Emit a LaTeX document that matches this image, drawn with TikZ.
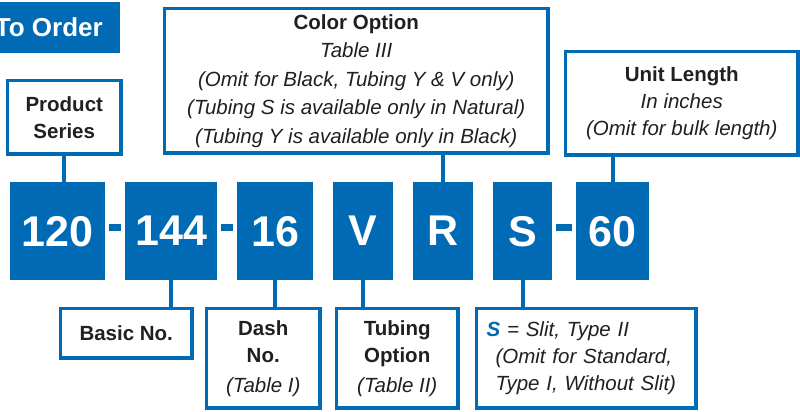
\documentclass[tikz,border=0pt]{standalone}
\usepackage{fontspec}
\setmainfont{Liberation Sans}
\definecolor{ordblue}{RGB}{0,106,180}
\definecolor{ordtext}{RGB}{35,31,32}
\begin{document}
\begin{tikzpicture}[x=1pt,y=-1pt]
	\tikzstyle{code} = [fill=ordblue,text=white,inner sep=0,minimum height=98pt,anchor=north west,font=\fontsize{43}{43}\selectfont\bfseries]
	\tikzstyle{label} = [draw=ordblue,line width=3.5pt,fill=white,text=ordtext,inner sep=0,anchor=north west,align=center,font=\fontsize{20.5}{27}\selectfont]
	\tikzstyle{link} = [draw=ordblue,line width=4pt]
	\tikzstyle{hyphen} = [draw=ordblue,line width=7pt,shorten >=4pt,shorten <=4pt]
	\useasboundingbox (0,0) rectangle (800,412);
	
	\node[fill=ordblue,text=white,inner sep=0,anchor=north east,minimum height=51pt,font=\fontsize{26}{26}\selectfont\bfseries](order)at (120,2){\hspace*{12pt}To Order\hspace*{17pt}};
	
	\node[code,minimum width=95pt](c-1)at (10,182){120};
	\node[code,minimum width=92pt](c-2)at (125,182){144};
	\node[code,minimum width=76pt](c-3)at (237,182){16};
	\node[code,minimum width=60pt](c-4)at (333,182){V};
	\node[code,minimum width=60pt](c-5)at (413,182){R};
	\node[code,minimum width=59pt](c-6)at (493,182){S};
	\node[code,minimum width=73pt](c-7)at (576,182){60};
	
	\node[label,minimum width=113.5pt,minimum height=73.5pt](ps)at (5.75,78.75){\textbf{Product}\\\textbf{Series}};
	\node[label,minimum width=383.5pt,minimum height=144.5pt,font=\fontsize{20.5}{28.5}\selectfont](col)at (162.75,6.75){\textbf{Color Option}\\\textit{Table III}\\\textit{(Omit for Black, Tubing Y \& V only)}\\\textit{(Tubing S is available only in Natural)}\\\textit{(Tubing Y is available only in Black)}};
	\node[label,minimum width=232.5pt,minimum height=103.5pt](len)at (563.75,49.75){\textbf{Unit Length}\\\textit{In inches}\\\textit{(Omit for bulk length)}};
	
	\node[label,minimum width=131.5pt,minimum height=49.5pt](basic)at (58.75,306.75){\textbf{Basic No.}};
	\node[label,minimum width=113.5pt,minimum height=99.5pt](dash)at (204.75,306.75){\textbf{Dash}\\\textbf{No.}\\[3pt]\textit{(Table I)}};
	\node[label,minimum width=121.5pt,minimum height=99.5pt](tube)at (334.75,306.75){\textbf{Tubing}\\\textbf{Option}\\[3pt]\textit{(Table II)}};
	\node[label,minimum height=99.5pt,inner xsep=10pt,text width=199.5pt,align=left,font=\fontsize{20.5}{27}\selectfont\itshape](slit)at (474.75,306.75){\textcolor{ordblue}{\bfseries S} = Slit, Type II\\\hspace*{9pt}(Omit for Standard,\\\hspace*{9pt}Type I, Without Slit)};
	
	% dashes between the code boxes
	\draw[hyphen] ([yshift=4pt]c-1.east) -- ([yshift=4pt]c-2.west);
	\draw[hyphen] ([yshift=4pt]c-2.east) -- ([yshift=4pt]c-3.west);
	\draw[hyphen] ([yshift=4pt]c-6.east) -- ([yshift=4pt]c-7.west);
	
	\path[link] (ps.south) -- (ps.south |- c-1.north)
	(c-5.north) -- (c-5.north |- col.south)
	(c-7.north) -- (c-7.north |- len.south)
	(c-2.south) -- (c-2.south |- basic.north)
	(c-3.south) -- (c-3.south |- dash.north)
	(c-4.south) -- (c-4.south |- tube.north)
	(c-6.south) -- (c-6.south |- slit.north);
	
\end{tikzpicture}
\end{document}
